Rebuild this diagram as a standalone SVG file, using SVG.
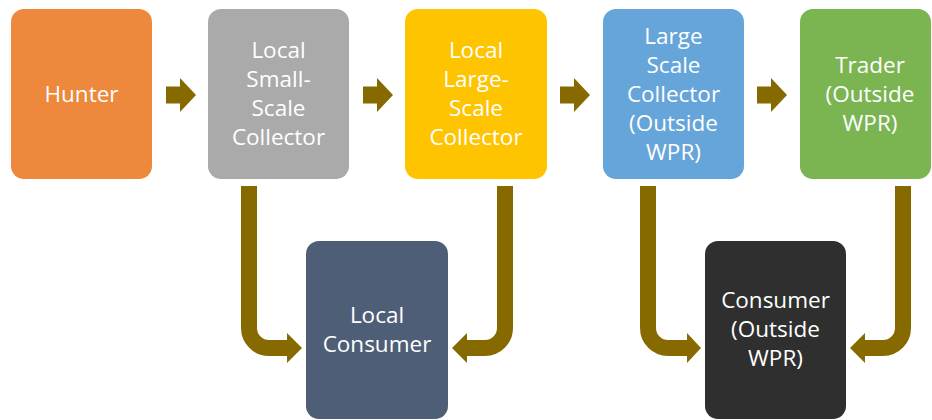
<svg xmlns="http://www.w3.org/2000/svg" width="932" height="420" viewBox="0 0 932 420">
  <style>
    .lbl { font-family: "Open Sans", "Liberation Sans", sans-serif; font-size: 22.5px; fill: #ffffff; text-anchor: middle; }
    .flow { fill: #866a00; }
    .elbow { fill: none; stroke: #866a00; stroke-width: 16; }
  </style>
  <defs>
    <!-- block arrow pointing right, origin at shaft start -->
    <path id="blockArrow" d="M0 -8.5 H14 V-17 L30 0 L14 17 V8.5 H0 Z"/>
  </defs>

  <rect width="932" height="420" fill="#ffffff"/>

  <g id="connectors">
    <!-- horizontal chain arrows -->
    <use href="#blockArrow" class="flow" x="166" y="95"/>
    <use href="#blockArrow" class="flow" x="363" y="95"/>
    <use href="#blockArrow" class="flow" x="560" y="95"/>
    <use href="#blockArrow" class="flow" x="757" y="95"/>

    <!-- Local Small-Scale Collector -> Local Consumer -->
    <path class="elbow" d="M249 186 V328 A20 20 0 0 0 269 348 H288"/>
    <polygon class="flow" points="287,333 302,348 287,363"/>
    <!-- Local Large-Scale Collector -> Local Consumer -->
    <path class="elbow" d="M505 186 V328 A20 20 0 0 1 485 348 H466"/>
    <polygon class="flow" points="467,333 452,348 467,363"/>
    <!-- Large Scale Collector -> Consumer (Outside WPR) -->
    <path class="elbow" d="M648 186 V328 A20 20 0 0 0 668 348 H688"/>
    <polygon class="flow" points="687,333 701,348 687,363"/>
    <!-- Trader -> Consumer (Outside WPR) -->
    <path class="elbow" d="M903 186 V328 A20 20 0 0 1 883 348 H864"/>
    <polygon class="flow" points="865,333 850,348 865,363"/>
  </g>

  <g id="hunter">
    <rect x="11" y="9" width="141" height="170" rx="13" fill="#ed883c"/>
    <text class="lbl" x="81.5" y="102">Hunter</text>
  </g>

  <g id="local-small-scale-collector">
    <rect x="208" y="9" width="141" height="170" rx="13" fill="#aaaaaa"/>
    <text class="lbl" x="278.5" y="58">Local</text>
    <text class="lbl" x="278.5" y="87">Small-</text>
    <text class="lbl" x="278.5" y="116">Scale</text>
    <text class="lbl" x="278.5" y="145">Collector</text>
  </g>

  <g id="local-large-scale-collector">
    <rect x="405" y="9" width="142" height="170" rx="13" fill="#ffc400"/>
    <text class="lbl" x="476" y="58">Local</text>
    <text class="lbl" x="476" y="87">Large-</text>
    <text class="lbl" x="476" y="116">Scale</text>
    <text class="lbl" x="476" y="145">Collector</text>
  </g>

  <g id="large-scale-collector">
    <rect x="603" y="9" width="141" height="170" rx="13" fill="#66a5da"/>
    <text class="lbl" x="673.5" y="44">Large</text>
    <text class="lbl" x="673.5" y="73">Scale</text>
    <text class="lbl" x="673.5" y="102">Collector</text>
    <text class="lbl" x="673.5" y="131">(Outside</text>
    <text class="lbl" x="673.5" y="160">WPR)</text>
  </g>

  <g id="trader">
    <rect x="800" y="9" width="131" height="170" rx="13" fill="#7ab552"/>
    <text class="lbl" x="870" y="73">Trader</text>
    <text class="lbl" x="870" y="102">(Outside</text>
    <text class="lbl" x="870" y="131">WPR)</text>
  </g>

  <g id="local-consumer">
    <rect x="306" y="241" width="142" height="178" rx="13" fill="#4e5e76"/>
    <text class="lbl" x="377" y="323">Local</text>
    <text class="lbl" x="377" y="352">Consumer</text>
  </g>

  <g id="consumer-outside">
    <rect x="705" y="241" width="141" height="178" rx="13" fill="#2f2f2f"/>
    <text class="lbl" x="775.5" y="308">Consumer</text>
    <text class="lbl" x="775.5" y="337">(Outside</text>
    <text class="lbl" x="775.5" y="366">WPR)</text>
  </g>
</svg>
